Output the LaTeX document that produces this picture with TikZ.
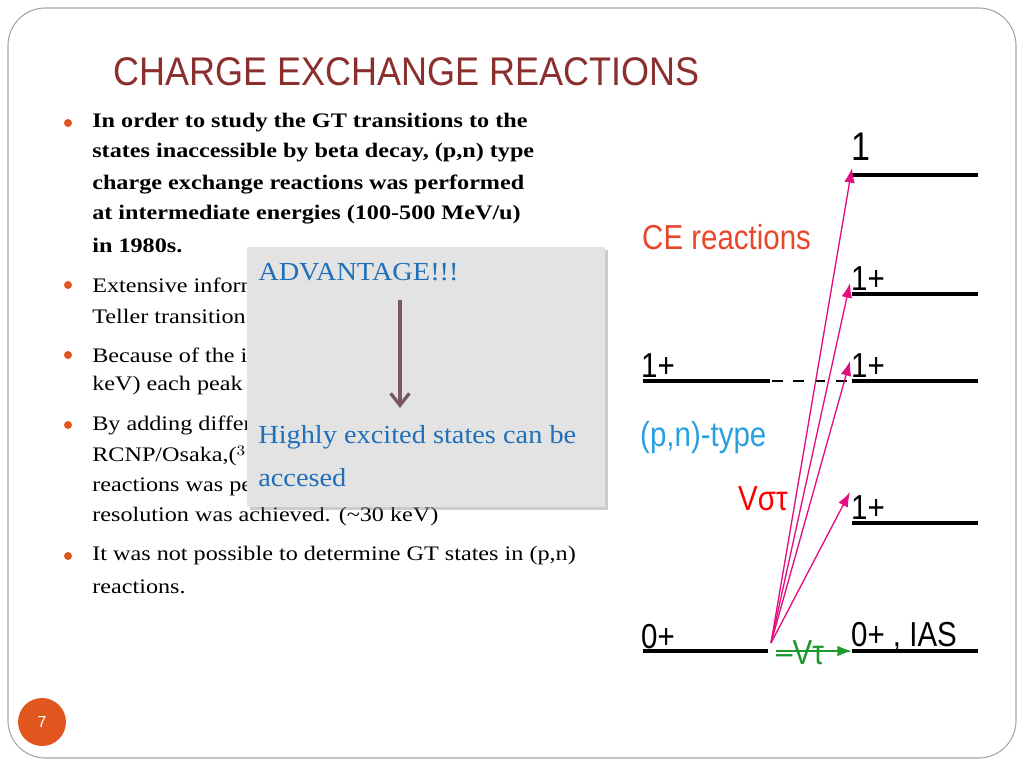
\documentclass[tikz,border=0pt]{standalone}
\usepackage{fontspec}
\setmainfont{Liberation Serif}
\newfontfamily\titlefont{Liberation Sans}
\usetikzlibrary{shadows,arrows.meta}
\definecolor{titlered}{HTML}{8B2E2E}
\definecolor{dotorange}{HTML}{E0561E}
\definecolor{advblue}{HTML}{1F70B8}
\definecolor{arrowbrown}{HTML}{7A5A5E}
\definecolor{cered}{HTML}{E8472A}
\definecolor{pnblue}{HTML}{2A9FE0}
\definecolor{greenV}{HTML}{1A9A2A}
\tikzset{
  body/.style={anchor=west,font=\fontsize{15.5}{17}\selectfont,inner sep=0pt,xscale=1.17},
  bodyb/.style={body,font=\bfseries\fontsize{15.5}{17}\selectfont},
  adv/.style={anchor=west,text=advblue,font=\fontsize{19.5}{20}\selectfont,inner sep=0pt,xscale=1.09},
  bul/.style={fill=dotorange,circle,inner sep=0pt,minimum size=6pt},
  level/.style={line width=3.2pt},
  trans/.style={-{Latex[length=11pt,width=8pt]},magenta!80!purple,line width=1pt},
  lbl/.style={font=\titlefont\fontsize{26}{26}\selectfont,inner sep=0pt,anchor=base west,xscale=0.85}
}
\begin{document}
\begin{tikzpicture}[x=0.75pt,y=-0.75pt]
\useasboundingbox (0,0) rectangle (1024,768);
\draw[gray!70,rounded corners=28pt,line width=0.8pt] (8,8) rectangle (1016,758);
% title
\node[anchor=west,text=titlered,font=\titlefont\fontsize{30}{30}\selectfont,xscale=0.9,inner sep=0pt] (title) at (113,72) {CHARGE EXCHANGE REACTIONS};
% bullets
\foreach \y in {123,285,355,425,556} \node[bul] at (68,\y) {};
\node[bodyb] at (92,123) {In order to study the GT transitions to the};
\node[bodyb] at (92,153) {states inaccessible by beta decay, (p,n) type};
\node[bodyb] at (92,184) {charge exchange reactions was performed};
\node[bodyb] at (92,215) {at intermediate energies (100-500 MeV/u)};
\node[bodyb] at (92,245) {in 1980s.};
\node[body] at (92,285) {Extensive inform};
\node[body] at (92,316) {Teller transition s};
\node[body] at (92,355) {Because of the in};
\node[body] at (92,386) {keV) each peak c};
\node[body] at (92,425) {By adding differe};
\node[body] at (92,456) {RCNP/Osaka,($^3$};
\node[body] at (92,487) {reactions was per};
\node[body] at (92,517) {resolution was achieved. (\textasciitilde30 keV)};
\node[body] at (92,556) {It was not possible to determine GT states in (p,n)};
\node[body] at (92,587) {reactions.};
% advantage box
\fill[gray!22,drop shadow={opacity=0.4}] (247,247) rectangle (605,507);
\node[adv] (adv) at (258,272) {ADVANTAGE!!!};
\node[adv] (high) at (258,437) {Highly excited states can be};
\node[adv] (acc) at (258,478) {accesed};
\draw[-{Straight Barb[length=9pt,width=14pt]},arrowbrown,line width=2.5pt] (400,300) -- (400,408);
% level scheme
\draw[level] (643,381) -- (770,381);
\draw[level] (643,651) -- (768,651);
\draw[dash pattern=on 8pt off 8pt,line width=1pt] (772,381) -- (852,381);
\foreach \y in {175,294,381,523,651} \draw[level] (852,\y) -- (978,\y);
\coordinate (O) at (771,643);
\foreach \x/\y in {852/168,850/283,850/361,850/492} \draw[trans] (O) -- (\x,\y);
\draw[-{Latex[length=11pt,width=8pt]},greenV,line width=1.2pt] (776,651) -- (852,651);
\node[lbl,text=greenV] at (776,664) {–Vτ};
\node[lbl,font=\titlefont\fontsize{30}{30}\selectfont] at (851,160) {1};
\node[lbl] at (851,290) {1+};
\node[lbl] at (851,377) {1+};
\node[lbl] at (851,519) {1+};
\node[lbl] at (851,646) {0+ , IAS};
\node[lbl] at (641,377) {1+};
\node[lbl] at (641,648) {0+};
\node[lbl,text=cered] at (642,249) {CE reactions};
\node[lbl,text=pnblue] at (640,446) {(p,n)-type};
\node[lbl,text=red] at (738,510) {Vστ};
% page number
\node[circle,fill=dotorange,minimum size=36pt,text=white,font=\titlefont\large,inner sep=0pt] at (42,722) {7};
\end{tikzpicture}
\end{document}
